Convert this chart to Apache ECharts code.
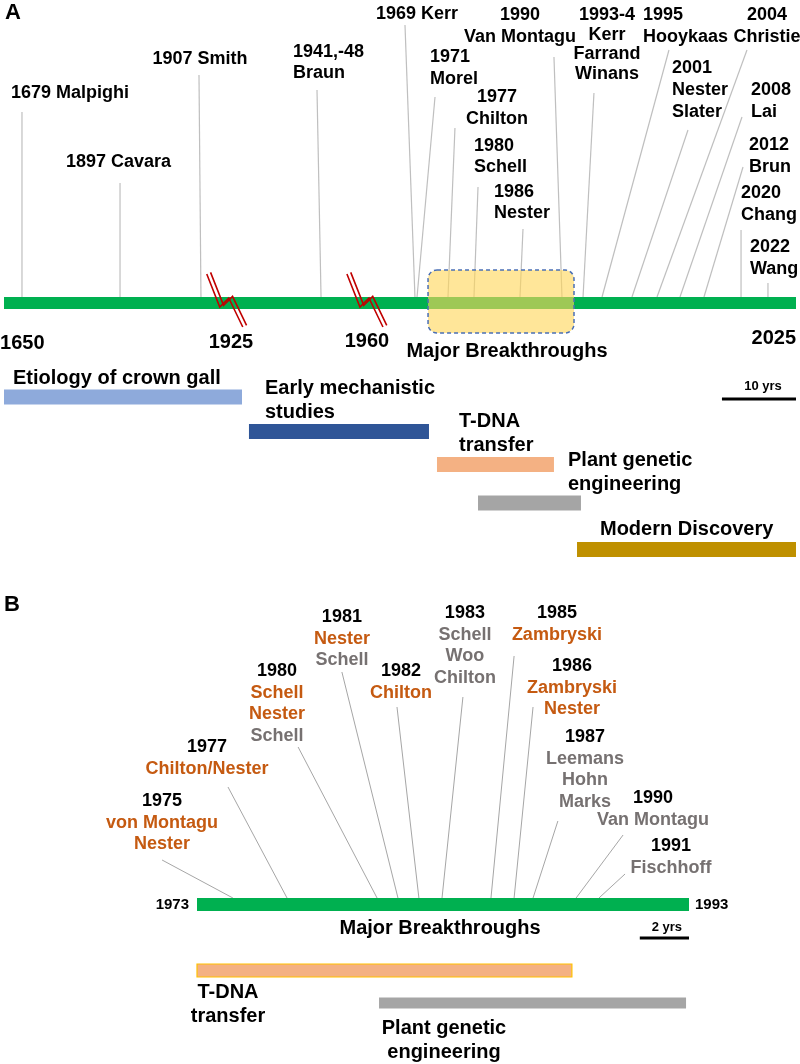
<!DOCTYPE html>
<html><head><meta charset="utf-8">
<script src="https://cdn.jsdelivr.net/npm/echarts@6/dist/echarts.min.js"></script>
<style>html,body{margin:0;padding:0;background:#fff}#c{width:800px;height:1064px}</style>
</head><body><div id="c"></div>
<script>
// ================= DATA =================
// ---- Panel A: whole history (schematic, broken timeline; x = position along drawn timeline, %) ----
const eventYearsA = ['1679','1897','1907','1941,-48','1969','1971','1977','1980','1986','1990','1993-4','1995','2001','2004','2008','2012','2020','2022'];
const eventNamesA = [['Malpighi'],['Cavara'],['Smith'],['Braun'],['Kerr'],['Morel'],['Chilton'],['Schell'],['Nester'],['Van Montagu'],['Kerr','Farrand','Winans'],['Hooykaas'],['Nester','Slater'],['Christie'],['Lai'],['Brun'],['Chang'],['Wang']];
const oneLineA = [true,true,true,false,true,false,false,false,false,false,false,false,false,false,false,false,false,false];
const tickYearsA = ['1650','1925','1960','2025'];
const rangeNamesA = ['Etiology of crown gall','Early mechanistic\nstudies','T-DNA\ntransfer','Plant genetic\nengineering','Modern Discovery'];
const rangeStartA = [0, 30.93, 54.67, 59.85, 72.35];
const rangeEndA   = [30.05, 53.66, 69.44, 72.85, 100];
const timelineA = [0, 100];
const breakthroughA = [53.54, 71.97];
const breaksA = [28.0, 45.7];
const scaleA = [90.65, 100];        // 10 yrs
const scaleLabelA = '10 yrs';

// ---- Panel B: major breakthroughs 1973-1993 (x = year) ----
const eventYearsB = ['1975','1977','1980','1981','1982','1983','1985','1986','1987','1990','1991'];
const eventNamesB = [['von Montagu','Nester'],['Chilton/Nester'],['Schell','Nester','Schell'],['Nester','Schell'],['Chilton'],['Schell','Woo','Chilton'],['Zambryski'],['Zambryski','Nester'],['Leemans','Hohn','Marks'],['Van Montagu'],['Fischhoff']];
const eventGroupB = [['o','o'],['o'],['o','o','g'],['o','g'],['o'],['g','g','g'],['o'],['o','o'],['g','g','g'],['g'],['g']];
const anchorYearB = [1974.46,1976.66,1980.32,1981.17,1982.02,1982.96,1984.95,1985.89,1986.66,1988.41,1989.34];
const timelineB = [1973, 1993];
const rangeNamesB = ['T-DNA\ntransfer','Plant genetic\nengineering'];
const rangeStartB = [1973, 1980.40];
const rangeEndB   = [1988.24, 1992.88];
const scaleB = [1991, 1993];        // 2 yrs
const scaleLabelB = '2 yrs';

// ================= LAYOUT / STYLE =================
const FONT = '"Liberation Sans", Arial, Helvetica, sans-serif';
const GREEN = '#00b050', LINE = '#bfbfbf', ORANGE = '#c55a11', GREY = '#767171';
const layA = {
  barY: 303, barH: 12, lineBottom: 297,
  topX:   [2.27,14.65,24.62,39.52,50.63,54.42,56.94,59.85,65.53,69.44,74.49,83.96,86.36,93.81,93.18,93.31,93.06,96.46],
  topY:   [112,183,75,90,25,97,128,187,229,57,93,50,130,50,117,167,230,283],
  labX:   [0.88,14.46,24.75,36.49,52.15,53.79,62.25,59.34,61.87,65.15,76.14,80.68,84.34,96.34,94.32,94.07,93.06,94.19],
  labY:   [93,162,59,52,14,57,97,146,192,15,15,15,68,15,90,145,193,247],
  labAl:  ['left','center','center','left','center','left','center','left','left','center','center','left','left','center','left','left','left','left'],
  labLH:  [21.5,21.5,21.5,21,21.5,22,22,21,21,22,19.7,22,22,22,22,22,22,22],
  anchorX:[2.27,14.65,24.87,40.03,51.89,52.15,56.06,59.34,65.15,70.45,73.11,75.51,79.29,82.45,85.35,88.38,93.06,96.46],
  tickX: [-0.5, 28.66, 45.83, 100], tickY: [343,342,341,338], tickAl: ['left','center','center','right'],
  rangeY: [397,431.5,464.5,503,549.5], rangeH: 15,
  rangeColor: ['#8eaadb','#2f5597','#f4b183','#a5a5a5','#bf9000'],
  rangeLabX: [1.14,32.95,57.45,71.21,75.25], rangeLabY: [378,388,421,460,529],
  boxY: [270,333], mbX: 63.51, mbY: 351,
  scaleY: 399, scaleLabX: 95.83, scaleLabY: 386
};
const layB = {
  barY: 904.5, barH: 13, lineBottom: 898,
  topX: [1971.58,1974.26,1977.11,1978.89,1981.13,1983.81,1985.89,1986.66,1987.67,1990.32,1990.40],
  topY: [860,787,747,672,707,697,656,707,821,835,874],
  labX: [1971.58,1973.41,1976.25,1978.89,1981.29,1983.89,1987.63,1988.24,1988.77,1991.54,1992.27],
  labY: [801,747,671,617,671,613,613,666,737,798,846],
  rangeY: [970.5,1003], rangeH: [13,11], rangeColor: ['#f4b183','#a5a5a5'], rangeBorder: ['#ffc000', null],
  rangeLabX: [1974.26,1983.04], rangeLabY: [992,1028],
  mbX: 1982.88, mbY: 928, scaleY: 938, scaleLabX: 1992.1, scaleLabY: 927, endY: 905
};

// ================= BUILD =================
const chart = echarts.init(document.getElementById('c'));

function txt(api, x, y, text, o) {
  const p = api.coord([x, y]);
  const size = o.size || 18, lh = o.lh || Math.round(size * 1.2);
  const st = {text, fontFamily: FONT, fontWeight: 'bold', fontSize: size, fill: o.color || '#000',
              align: o.align || 'center', verticalAlign: 'top', lineHeight: lh};
  if (o.rich) st.rich = o.rich;
  return {type: 'text', x: p[0] + (o.dx || 0), y: p[1] - lh / 2, style: st};
}
function rect(api, x1, x2, yc, h, style, r) {
  const a = api.coord([x1, yc]), b = api.coord([x2, yc]);
  return {type: 'rect', shape: {x: a[0], y: a[1] - h / 2, width: b[0] - a[0], height: h, r: r || 0}, style};
}
function cs(grid, z, data, renderItem, encode) {
  return {type: 'custom', xAxisIndex: grid, yAxisIndex: grid, z, clip: false, silent: true,
          data, renderItem, encode: encode || {x: 0, y: 1}};
}

// ---- Panel A series ----
const seriesA = [
  // connector lines
  cs(0, 1, eventYearsA.map((y, i) => [layA.anchorX[i], layA.topX[i], layA.topY[i]]), (params, api) => {
    const a = api.coord([api.value(0), layA.lineBottom]), b = api.coord([api.value(1), api.value(2)]);
    return {type: 'line', shape: {x1: a[0], y1: a[1], x2: b[0], y2: b[1]}, style: {stroke: LINE, lineWidth: 1.2}};
  }, {x: [0, 1], y: 2}),
  // timeline bar
  cs(0, 2, [[timelineA[0], layA.barY]], (p, api) =>
    rect(api, timelineA[0], timelineA[1], layA.barY, layA.barH, {fill: GREEN})),
  // period range bars
  cs(0, 2, rangeStartA.map((s, i) => [s, layA.rangeY[i]]), (params, api) => {
    const i = params.dataIndex;
    return rect(api, rangeStartA[i], rangeEndA[i], layA.rangeY[i], layA.rangeH, {fill: layA.rangeColor[i]});
  }),
  // major breakthroughs highlight box
  cs(0, 3, [[breakthroughA[0], layA.boxY[0]]], (params, api) => {
    const a = api.coord([breakthroughA[0], layA.boxY[0]]), b = api.coord([breakthroughA[1], layA.boxY[1]]);
    return {type: 'rect', shape: {x: a[0], y: a[1], width: b[0] - a[0], height: b[1] - a[1], r: 9},
            style: {fill: 'rgba(255,214,90,0.62)', stroke: '#4a6fb5', lineWidth: 1.5, lineDash: [4, 3]}};
  }),
  // axis break marks
  cs(0, 4, breaksA.map(b => [b, layA.barY]), (params, api) => {
    const c = api.coord([api.value(0), layA.barY]);
    const base = [[-19, -29], [-6, 4], [3, -5], [17, 24]];
    const mk = (dx, dy) => ({type: 'polyline', shape: {points: base.map(q => [c[0] + q[0] + dx, c[1] + q[1] + dy])},
                             style: {stroke: '#c00000', lineWidth: 1.6, fill: null}});
    return {type: 'group', children: [mk(0, 0), mk(3.8, -1.6)]};
  }),
  // scale bar
  cs(0, 4, [[scaleA[0], layA.scaleY]], (p, api) => {
    const a = api.coord([scaleA[0], layA.scaleY]), b = api.coord([scaleA[1], layA.scaleY]);
    return {type: 'line', shape: {x1: a[0], y1: a[1], x2: b[0], y2: b[1]}, style: {stroke: '#000', lineWidth: 3}};
  }),
  // event labels
  cs(0, 5, eventYearsA.map((y, i) => [layA.labX[i], layA.labY[i]]), (params, api) => {
    const i = params.dataIndex;
    const t = oneLineA[i] ? eventYearsA[i] + ' ' + eventNamesA[i].join(' ') : [eventYearsA[i]].concat(eventNamesA[i]).join('\n');
    return txt(api, layA.labX[i], layA.labY[i], t, {size: 18, lh: layA.labLH[i], align: layA.labAl[i]});
  }),
  // tick year labels
  cs(0, 5, tickYearsA.map((y, i) => [layA.tickX[i], layA.tickY[i]]), (params, api) => {
    const i = params.dataIndex;
    return txt(api, layA.tickX[i], layA.tickY[i], tickYearsA[i], {size: 20, align: layA.tickAl[i]});
  }),
  // range labels
  cs(0, 5, rangeNamesA.map((n, i) => [layA.rangeLabX[i], layA.rangeLabY[i]]), (params, api) => {
    const i = params.dataIndex;
    return txt(api, layA.rangeLabX[i], layA.rangeLabY[i], rangeNamesA[i], {size: 20, lh: 24.5, align: 'left'});
  }),
  // misc labels
  cs(0, 5, [[layA.mbX, layA.mbY], [layA.scaleLabX, layA.scaleLabY]], (params, api) => {
    if (params.dataIndex === 0) return txt(api, layA.mbX, layA.mbY, 'Major Breakthroughs', {size: 20});
    return txt(api, layA.scaleLabX, layA.scaleLabY, scaleLabelA, {size: 13});
  })
];

// ---- Panel B series ----
const richB = {
  y: {fill: '#000', fontFamily: FONT, fontWeight: 'bold', fontSize: 18, lineHeight: 21.7},
  o: {fill: ORANGE, fontFamily: FONT, fontWeight: 'bold', fontSize: 18, lineHeight: 21.7},
  g: {fill: GREY, fontFamily: FONT, fontWeight: 'bold', fontSize: 18, lineHeight: 21.7}
};
const seriesB = [
  cs(1, 1, anchorYearB.map((a, i) => [a, layB.topX[i], layB.topY[i]]), (params, api) => {
    const a = api.coord([api.value(0), layB.lineBottom]), b = api.coord([api.value(1), api.value(2)]);
    return {type: 'line', shape: {x1: a[0], y1: a[1], x2: b[0], y2: b[1]}, style: {stroke: '#a6a6a6', lineWidth: 1}};
  }, {x: [0, 1], y: 2}),
  cs(1, 2, [[timelineB[0], layB.barY]], (p, api) =>
    rect(api, timelineB[0], timelineB[1], layB.barY, layB.barH, {fill: GREEN})),
  cs(1, 2, rangeStartB.map((s, i) => [s, layB.rangeY[i]]), (params, api) => {
    const i = params.dataIndex;
    const st = {fill: layB.rangeColor[i]};
    if (layB.rangeBorder[i]) { st.stroke = layB.rangeBorder[i]; st.lineWidth = 1.2; }
    return rect(api, rangeStartB[i], rangeEndB[i], layB.rangeY[i], layB.rangeH[i], st);
  }),
  cs(1, 4, [[scaleB[0], layB.scaleY]], (p, api) => {
    const a = api.coord([scaleB[0], layB.scaleY]), b = api.coord([scaleB[1], layB.scaleY]);
    return {type: 'line', shape: {x1: a[0], y1: a[1], x2: b[0], y2: b[1]}, style: {stroke: '#000', lineWidth: 3}};
  }),
  cs(1, 5, eventYearsB.map((y, i) => [layB.labX[i], layB.labY[i]]), (params, api) => {
    const i = params.dataIndex;
    const t = ['{y|' + eventYearsB[i] + '}'].concat(eventNamesB[i].map((n, k) => '{' + eventGroupB[i][k] + '|' + n + '}')).join('\n');
    return txt(api, layB.labX[i], layB.labY[i], t, {size: 18, lh: 21.7, align: 'center', rich: richB});
  }),
  cs(1, 5, [[timelineB[0], layB.endY], [timelineB[1], layB.endY]], (params, api) => {
    const i = params.dataIndex;
    return txt(api, timelineB[i], layB.endY, String(timelineB[i]),
               {size: 15, align: i === 0 ? 'right' : 'left', dx: i === 0 ? -8 : 6});
  }),
  cs(1, 5, rangeNamesB.map((n, i) => [layB.rangeLabX[i], layB.rangeLabY[i]]), (params, api) => {
    const i = params.dataIndex;
    return txt(api, layB.rangeLabX[i], layB.rangeLabY[i], rangeNamesB[i], {size: 20, lh: 24.5});
  }),
  cs(1, 5, [[layB.mbX, layB.mbY], [layB.scaleLabX, layB.scaleLabY]], (params, api) => {
    if (params.dataIndex === 0) return txt(api, layB.mbX, layB.mbY, 'Major Breakthroughs', {size: 20});
    return txt(api, layB.scaleLabX, layB.scaleLabY, scaleLabelB, {size: 13});
  })
];

chart.setOption({
  animation: false,
  backgroundColor: '#fff',
  title: [
    {text: 'A', left: 3, top: 0, padding: [2, 2], textStyle: {fontFamily: FONT, fontWeight: 'bold', fontSize: 22, color: '#000'}},
    {text: 'B', left: 2, top: 592, padding: [2, 2], textStyle: {fontFamily: FONT, fontWeight: 'bold', fontSize: 22, color: '#000'}}
  ],
  grid: [
    {left: 4, width: 792, top: 0, height: 1064},
    {left: 197, width: 492, top: 0, height: 1064}
  ],
  xAxis: [
    {type: 'value', gridIndex: 0, min: 0, max: 100, show: false},
    {type: 'value', gridIndex: 1, min: 1973, max: 1993, show: false}
  ],
  yAxis: [
    {type: 'value', gridIndex: 0, min: 0, max: 1064, inverse: true, show: false},
    {type: 'value', gridIndex: 1, min: 0, max: 1064, inverse: true, show: false}
  ],
  series: seriesA.concat(seriesB)
});
</script>
</body></html>
